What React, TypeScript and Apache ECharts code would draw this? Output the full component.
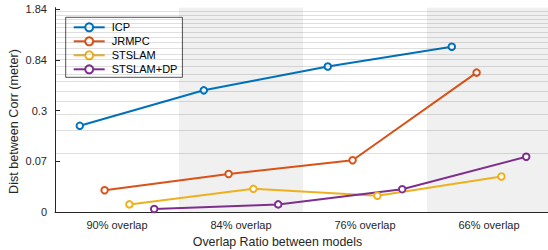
import React, { useEffect, useRef } from "react";
import * as echarts from "echarts";

// ---- data ----
const categories = ["90% overlap", "84% overlap", "76% overlap", "66% overlap"];
const yTickValues = [0, 0.07, 0.3, 0.84, 1.84];
const yTickLabels = ["0", "0.07", "0.3", "0.84", "1.84"];
const gridValues = [
  0.107, 0.212, 0.284, 0.396, 0.513, 0.608, 0.688, 0.768, 0.855, 0.963, 1.072,
  1.18, 1.278, 1.377, 1.475, 1.564, 1.643, 1.722, 1.801,
];
const seriesNames = ["ICP", "JRMPC", "STSLAM", "STSLAM+DP"];
const icp = [0.231, 0.516, 0.77, 1.1];
const jrmpc = [0.03, 0.0525, 0.0746, 0.705];
const stslam = [0.0105, 0.032, 0.0224, 0.049];
const stslamDp = [0.0042, 0.0105, 0.0315, 0.0907];
const seriesValues = [icp, jrmpc, stslam, stslamDp];
const seriesOffsets = [-0.3, -0.1, 0.1, 0.3];
const colors = ["#0072BD", "#D95319", "#EDB120", "#7E2F8E"];

const FONT = '"Liberation Sans", Arial, Helvetica, sans-serif';
const INK = "#262626";

// piecewise-linear scale through the axis tick values (equally spaced ticks)
function toAxis(v: number): number {
  for (let i = 0; i < yTickValues.length - 1; i++) {
    const a = yTickValues[i];
    const b = yTickValues[i + 1];
    if (v <= b || i === yTickValues.length - 2) {
      return i + (v - a) / (b - a);
    }
  }
  return 0;
}

export default function App() {
  const ref = useRef<HTMLDivElement>(null);
  useEffect(() => {
    if (!ref.current) return;
    const chart = echarts.init(ref.current, undefined, { renderer: "svg" });
    const tickIdx = yTickValues.map((_, i) => i);
    const option: any = {
      animation: false,
      backgroundColor: "#fff",
      grid: { left: 55, right: -3, top: 7.7, bottom: 38, outerBoundsMode: "none" },
      xAxis: [
        {
          type: "category",
          data: categories,
          boundaryGap: true,
          axisLine: { lineStyle: { color: INK, width: 1 } },
          axisTick: { alignWithLabel: true, inside: true, length: 5, lineStyle: { color: INK } },
          axisLabel: { color: INK, fontSize: 11, fontFamily: FONT, margin: 7 },
          splitLine: { show: false },
          splitArea: { show: true, areaStyle: { color: ["rgba(255,255,255,0)", "#f0f0f0"] } },
        },
        { type: "value", min: 0.5, max: 4.5, show: false },
      ],
      yAxis: {
        type: "value",
        min: 0,
        max: 4.03,
        axisLine: { show: true, lineStyle: { color: INK, width: 1 } },
        axisTick: { show: true, inside: true, length: 5, customValues: tickIdx, lineStyle: { color: INK } },
        axisLabel: {
          customValues: tickIdx,
          color: INK,
          fontSize: 11,
          fontFamily: FONT,
          margin: 8,
          formatter: (v: number) => yTickLabels[Math.round(v)] ?? "",
        },
        splitLine: { show: false },
      },
      legend: {
        orient: "vertical",
        left: 65.7,
        top: 17.3,
        itemWidth: 31,
        itemHeight: 10,
        itemGap: 2,
        padding: [4, 5, 2, 7],
        backgroundColor: "#fff",
        borderColor: INK,
        borderWidth: 0.8,
        borderRadius: 0,
        textStyle: { fontSize: 11, color: "#000", fontFamily: FONT, lineHeight: 12, padding: [0, 0, 0, 2] },
        data: seriesNames,
      },
      graphic: [
        {
          type: "text",
          x: 277.5,
          y: 241.7,
          style: {
            text: "Overlap Ratio between models",
            fill: INK,
            fontSize: 12.4,
            fontFamily: FONT,
            align: "center",
            verticalAlign: "middle",
          },
        },
        {
          type: "text",
          x: 14,
          y: 121.5,
          rotation: Math.PI / 2,
          style: {
            text: "Dist between Corr (meter)",
            fill: INK,
            fontSize: 12.6,
            fontFamily: FONT,
            align: "center",
            verticalAlign: "middle",
          },
        },
      ],
      series: [
        {
          name: "_grid",
          type: "line",
          xAxisIndex: 1,
          data: [],
          z: 1,
          silent: true,
          markLine: {
            silent: true,
            symbol: ["none", "none"],
            label: { show: false },
            lineStyle: { color: "rgba(38,38,38,0.15)", width: 1, type: "solid" },
            data: gridValues.map((v) => ({ yAxis: toAxis(v) })),
          },
        },
        ...seriesNames.map((name, si) => ({
          name,
          type: "line",
          xAxisIndex: 1,
          z: 3,
          data: seriesValues[si].map((v, ci) => [ci + 1 + seriesOffsets[si], toAxis(v)]),
          symbol: "emptyCircle",
          symbolSize: 6.5,
          showSymbol: true,
          color: colors[si],
          lineStyle: { color: colors[si], width: 2 },
          itemStyle: { color: colors[si], borderColor: colors[si], borderWidth: 1.8 },
        })),
      ],
    };
    chart.setOption(option);
    return () => chart.dispose();
  }, []);
  return (
    <div
      ref={ref}
      style={{ position: "fixed", left: 0, top: 0, width: 548, height: 250 }}
    />
  );
}
